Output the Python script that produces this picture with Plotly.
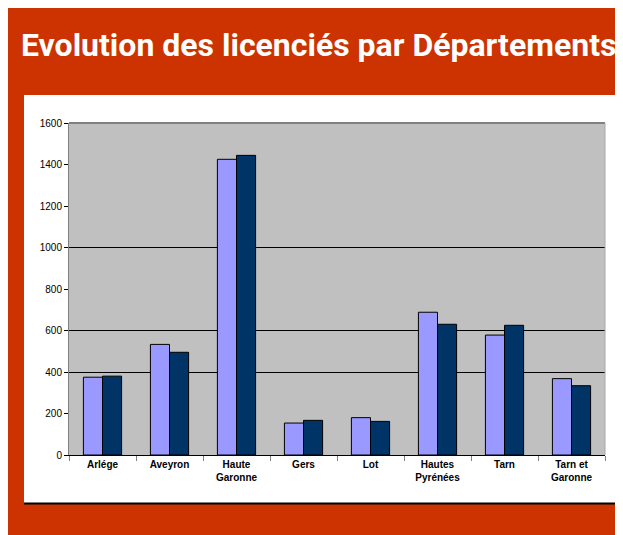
import plotly.graph_objects as go

# ---- data ----
departements = ["Arlége", "Aveyron", "Haute<br>Garonne", "Gers", "Lot",
                "Hautes<br>Pyrénées", "Tarn", "Tarn et<br>Garonne"]
saison_1 = [375, 533, 1425, 154, 180, 688, 578, 368]
saison_2 = [380, 495, 1444, 167, 162, 630, 625, 334]
y_ticks = [0, 200, 400, 600, 800, 1000, 1200, 1400, 1600]
grid_values = [400, 600, 1000]
y_range = [0, 1600]

# the page body adds an 8px margin; figure pixels = screen pixels - 8
OFF = 8
W, H = 615, 527
L, R, T, B = 61, 18, 115, 80
pw, ph = W - L - R, H - T - B


def px(x):
    return (x - OFF - L) / pw


def py(y):
    return (H - B - (y - OFF)) / ph


fig = go.Figure()
fig.add_trace(go.Bar(x=departements, y=saison_1, name="Saison 1",
                     marker=dict(color="#9999FF", line=dict(color="#000000", width=1))))
fig.add_trace(go.Bar(x=departements, y=saison_2, name="Saison 2",
                     marker=dict(color="#003366", line=dict(color="#000000", width=1))))
# invisible trace to carry the overlay grid axis
fig.add_trace(go.Scatter(x=[departements[0]], y=[y_range[0]], yaxis="y2",
                         mode="markers", marker=dict(opacity=0),
                         hoverinfo="skip", showlegend=False))

shapes = [
    # white panel
    dict(type="rect", xref="paper", yref="paper", x0=px(24), x1=px(615),
         y0=py(503), y1=py(95), fillcolor="#FFFFFF", line=dict(width=0), layer="below"),
    # panel bottom shadow
    dict(type="line", xref="paper", yref="paper", x0=px(24), x1=px(615),
         y0=py(503.5), y1=py(503.5), line=dict(color="#000000", width=2), layer="below"),
    # plot area background
    dict(type="rect", xref="x domain", yref="y domain", x0=0, x1=1, y0=0, y1=1,
         fillcolor="#C0C0C0", line=dict(width=0), layer="below"),
    # plot area top border
    dict(type="line", xref="x domain", yref="y domain", x0=0, x1=1, y0=1, y1=1,
         line=dict(color="#808080", width=2), layer="above"),
    # plot area right border
    dict(type="line", xref="x domain", yref="y domain", x0=1, x1=1, y0=0, y1=1,
         line=dict(color="#A8A8A8", width=1), layer="above"),
]

fig.update_layout(
    width=W, height=H,
    margin=dict(l=L, r=R, t=T, b=B, pad=0),
    paper_bgcolor="#CC3300",
    plot_bgcolor="rgba(0,0,0,0)",
    barmode="group", bargap=0.43, bargroupgap=0,
    showlegend=False,
    font=dict(family="Liberation Sans, Arial, sans-serif", size=10, color="#000000"),
    shapes=shapes,
    xaxis=dict(
        type="category",
        showgrid=False, showline=True, linecolor="#000000", linewidth=1,
        ticks="outside", tickson="boundaries", ticklen=5, tickcolor="#808080",
        tickfont=dict(family="Liberation Sans, Arial, sans-serif", size=10, weight="bold"),
        fixedrange=True,
    ),
    yaxis=dict(
        range=y_range, tickvals=y_ticks, ticktext=[str(v) for v in y_ticks],
        showgrid=False, zeroline=False, showline=True, linecolor="#808080", linewidth=1,
        ticks="outside", ticklen=4, tickcolor="#000000",
        tickfont=dict(family="Liberation Sans, Arial, sans-serif", size=10),
        fixedrange=True,
    ),
    yaxis2=dict(
        overlaying="y", range=y_range, tickvals=grid_values, showticklabels=False,
        showgrid=True, gridcolor="#000000", gridwidth=1, zeroline=False,
        showline=False, ticks="", fixedrange=True,
    ),
    annotations=[dict(
        text="<b>Evolution des licenciés par Départements</b>",
        xref="paper", yref="paper", x=px(318), y=py(45),
        xanchor="center", yanchor="middle", showarrow=False,
        font=dict(family="Roboto, Liberation Sans, sans-serif",
                  size=32, color="#FFFFFF"),
    )],
)

fig.write_html("out.html")
